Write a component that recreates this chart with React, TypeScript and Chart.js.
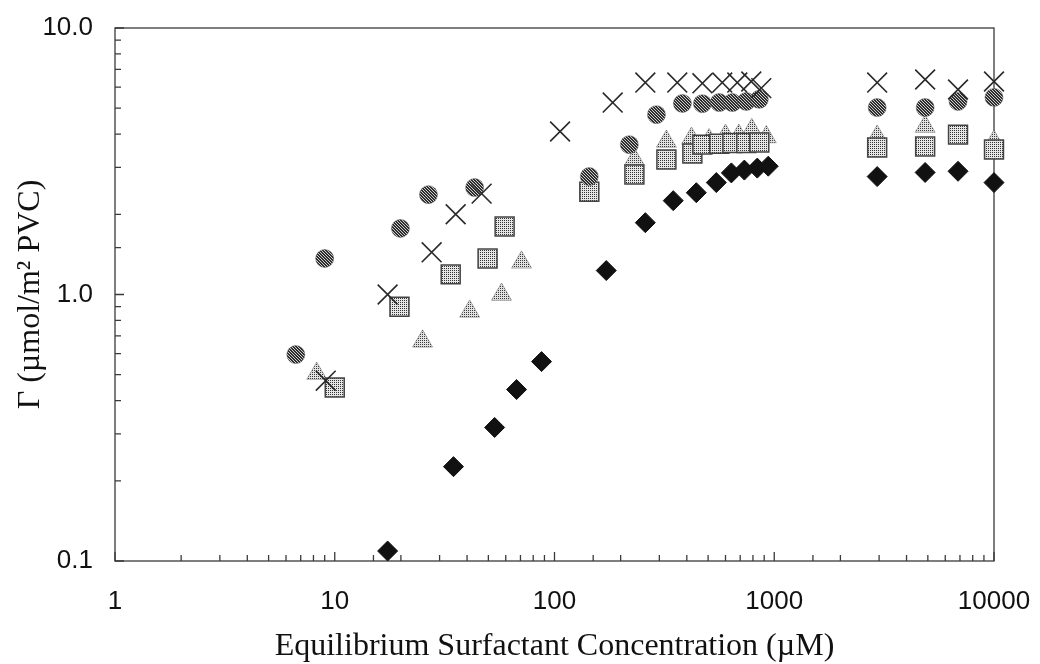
import { useEffect, useRef } from "react";
import { Chart, registerables } from "chart.js";

Chart.register(...registerables);

// Equilibrium surfactant concentration (µM) and surface excess Γ (µmol/m² PVC)
const diamondConc = [17.4, 34.7, 53.4, 67.2, 87.3, 172, 259, 347, 442, 545, 638, 731, 837, 939, 2940, 4860, 6860, 10000];
const diamondGamma = [0.109, 0.226, 0.317, 0.44, 0.56, 1.23, 1.86, 2.25, 2.41, 2.63, 2.86, 2.93, 2.98, 3.03, 2.77, 2.87, 2.9, 2.63];

const crossConc = [9.1, 17.4, 27.6, 35.5, 46.6, 106, 184, 259, 362, 471, 580, 679, 786, 873, 2940, 4860, 6860, 10000];
const crossGamma = [0.475, 1.0, 1.44, 2.0, 2.39, 4.09, 5.25, 6.24, 6.24, 6.2, 6.24, 6.24, 6.3, 5.95, 6.24, 6.41, 5.88, 6.3];

const circleConc = [6.65, 9.0, 19.9, 26.7, 43.3, 144, 219, 291, 382, 471, 562, 645, 746, 855, 2940, 4860, 6860, 10000];
const circleGamma = [0.595, 1.365, 1.77, 2.37, 2.52, 2.77, 3.65, 4.73, 5.21, 5.2, 5.25, 5.25, 5.3, 5.4, 5.03, 5.03, 5.3, 5.49];

const squareConc = [10, 19.7, 33.7, 49.6, 59.3, 144, 231, 323, 424, 471, 562, 645, 746, 855, 2940, 4860, 6860, 10000];
const squareGamma = [0.448, 0.9, 1.19, 1.365, 1.8, 2.43, 2.82, 3.21, 3.38, 3.65, 3.68, 3.7, 3.7, 3.72, 3.56, 3.59, 3.98, 3.5];

const triangleConc = [8.28, 25.1, 41.1, 57.4, 70.8, 144, 231, 323, 420, 505, 600, 690, 790, 920, 2940, 4860, 10000];
const triangleGamma = [0.505, 0.667, 0.864, 1.0, 1.32, 2.62, 3.21, 3.75, 3.85, 3.8, 3.95, 3.95, 4.15, 3.9, 3.92, 4.27, 3.75];

const xTitle = "Equilibrium Surfactant Concentration (\u00b5M)";
const yTitle = "\u0393 (\u00b5mol/m\u00b2 PVC)";

const toPoints = (xs: number[], ys: number[]) => xs.map((x, i) => ({ x, y: ys[i] }));

const isDecade = (v: number) => {
  const l = Math.log10(v);
  return Math.abs(l - Math.round(l)) < 1e-9;
};

// small halftone tiles used as marker fills
function makePattern(size: number, bg: string, fg: string, dots: [number, number][]) {
  const c = document.createElement("canvas");
  c.width = size;
  c.height = size;
  const g = c.getContext("2d")!;
  g.fillStyle = bg;
  g.fillRect(0, 0, size, size);
  g.fillStyle = fg;
  for (const [x, y] of dots) g.fillRect(x, y, 1, 1);
  return g.createPattern(c, "repeat")!;
}

// box around the plot area plus inward-pointing log ticks
const frameAndTicks = {
  id: "frameAndTicks",
  beforeDatasetsDraw(chart: any) {
    const { ctx, chartArea: a, scales } = chart;
    ctx.save();
    ctx.strokeStyle = "#3a3a3a";
    ctx.lineWidth = 1.3;
    ctx.strokeRect(a.left, a.top, a.right - a.left, a.bottom - a.top);
    ctx.beginPath();
    for (const t of scales.x.ticks) {
      const px = scales.x.getPixelForValue(t.value);
      const len = isDecade(t.value) ? 9 : 6;
      ctx.moveTo(px, a.bottom);
      ctx.lineTo(px, a.bottom - len);
    }
    for (const t of scales.y.ticks) {
      const py = scales.y.getPixelForValue(t.value);
      const len = isDecade(t.value) ? 9 : 6;
      ctx.moveTo(a.left, py);
      ctx.lineTo(a.left + len, py);
    }
    ctx.stroke();
    ctx.restore();
  },
};

export default function App() {
  const ref = useRef<HTMLCanvasElement | null>(null);

  useEffect(() => {
    if (!ref.current) return;
    const circleFill = makePattern(3, "#cfcfcf", "#2e2e2e", [
      [0, 0], [1, 1], [2, 2], [1, 0], [2, 1], [0, 2],
    ]);
    const squareFill = makePattern(2, "#e6e6e6", "#333333", [[0, 0]]);
    const triangleFill = makePattern(2, "#e2e2e2", "#3a3a3a", [[0, 0]]);

    const tickFont = { family: "'Liberation Sans', Arial, sans-serif", size: 26 };
    const titleFont = { family: "'Liberation Serif', 'Times New Roman', serif", size: 32, lineHeight: 1.1 };

    const chart = new Chart(ref.current, {
      type: "scatter",
      data: {
        datasets: [
          {
            label: "diamond",
            data: toPoints(diamondConc, diamondGamma),
            pointStyle: "rectRot",
            pointRadius: 10,
            backgroundColor: "#111111",
            borderColor: "#111111",
            borderWidth: 1,
            clip: false,
          },
          {
            label: "cross",
            data: toPoints(crossConc, crossGamma),
            pointStyle: "crossRot",
            pointRadius: 14,
            borderColor: "#2a2a2a",
            borderWidth: 1.6,
            clip: false,
          },
          {
            label: "circle",
            data: toPoints(circleConc, circleGamma),
            pointStyle: "circle",
            pointRadius: 9,
            backgroundColor: circleFill,
            borderColor: "rgba(80,80,80,0.6)",
            borderWidth: 0.8,
            clip: false,
          },
          {
            label: "square",
            data: toPoints(squareConc, squareGamma),
            pointStyle: "rect",
            pointRadius: 13.4,
            backgroundColor: squareFill,
            borderColor: "#444444",
            borderWidth: 1.5,
            clip: false,
          },
          {
            label: "triangle",
            data: toPoints(triangleConc, triangleGamma),
            pointStyle: "triangle",
            pointRadius: 11.5,
            backgroundColor: triangleFill,
            borderColor: "rgba(90,90,90,0.6)",
            borderWidth: 0.8,
            clip: false,
          },
        ],
      },
      options: {
        animation: false,
        responsive: false,
        events: [],
        layout: { padding: { top: 28, right: 46, left: 0, bottom: 0 } },
        plugins: { legend: { display: false }, tooltip: { enabled: false } },
        scales: {
          x: {
            type: "logarithmic",
            min: 1,
            max: 10000,
            grid: { display: false, drawTicks: false },
            border: { display: false },
            ticks: {
              autoSkip: false,
              maxRotation: 0,
              padding: 25,
              color: "#111111",
              font: tickFont,
              callback: (v: any) => (isDecade(Number(v)) ? String(Math.round(Number(v))) : ""),
            },
            title: { display: true, text: xTitle, color: "#111111", font: titleFont, padding: 0 },
            afterFit: (s: any) => {
              s.height = 103;
              s.paddingLeft = 0;
              s.paddingRight = 0;
            },
          },
          y: {
            type: "logarithmic",
            min: 0.1,
            max: 10,
            grid: { display: false, drawTicks: false },
            border: { display: false },
            ticks: {
              autoSkip: false,
              padding: 22,
              color: "#111111",
              font: tickFont,
              callback: (v: any) => (isDecade(Number(v)) ? Number(v).toFixed(1) : ""),
            },
            title: { display: true, text: yTitle, color: "#111111", font: titleFont, padding: { top: 13, bottom: 0 } },
            afterFit: (s: any) => {
              s.width = 115;
              s.paddingTop = 0;
              s.paddingBottom = 0;
            },
          },
        },
      },
      plugins: [frameAndTicks],
    } as any);

    return () => chart.destroy();
  }, []);

  return (
    <div style={{ position: "fixed", left: 0, top: 0, width: 1040, height: 664, background: "#ffffff" }}>
      <canvas ref={ref} width={1040} height={664} style={{ display: "block" }} />
    </div>
  );
}
